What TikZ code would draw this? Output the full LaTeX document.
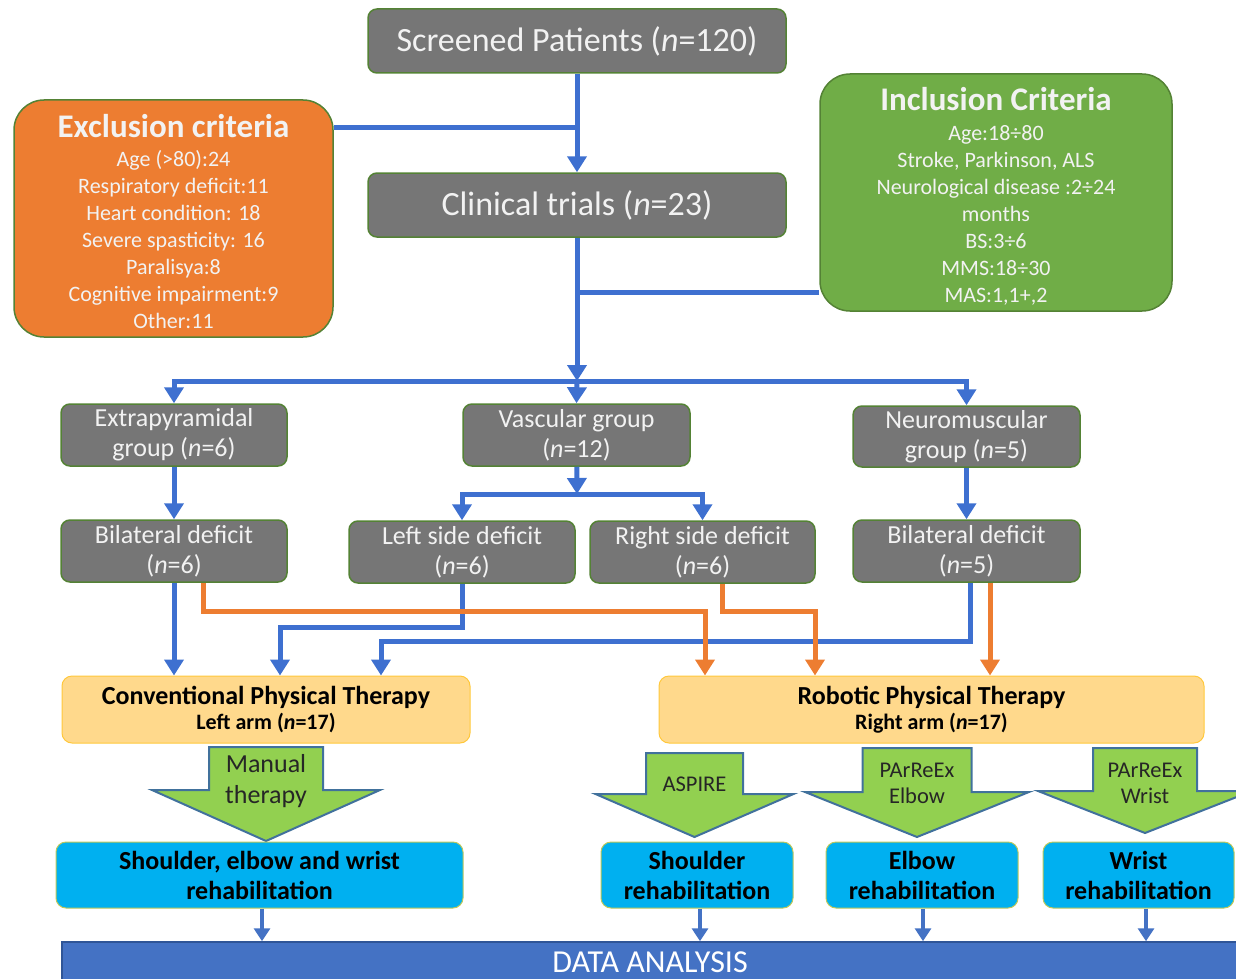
\documentclass[tikz,border=0pt]{standalone}
\usepackage{fontspec}
\setmainfont{Carlito}
\usetikzlibrary{arrows.meta}

\definecolor{boxgray}{RGB}{118,118,118}
\definecolor{edgegreen}{RGB}{84,130,53}
\definecolor{txtlight}{RGB}{242,242,242}
\definecolor{exorange}{RGB}{237,125,49}
\definecolor{ingreen}{RGB}{112,173,71}
\definecolor{linkblue}{RGB}{62,112,208}
\definecolor{therapy}{RGB}{255,217,140}
\definecolor{therapyedge}{RGB}{255,200,60}
\definecolor{armgreen}{RGB}{146,208,80}
\definecolor{armedge}{RGB}{65,113,156}
\definecolor{rehabcyan}{RGB}{0,176,240}
\definecolor{rehabedge}{RGB}{190,200,90}
\definecolor{datablue}{RGB}{68,114,196}
\definecolor{dataedge}{RGB}{47,85,151}

\tikzset{
  gbox/.style={draw=edgegreen, line width=1.5pt, fill=boxgray, rounded corners=9pt,
    text=txtlight, align=center, inner sep=0pt, font=\fontsize{26}{30}\selectfont},
  bigbox/.style={draw=edgegreen, line width=1.5pt, rounded corners=30pt,
    text=txtlight, align=center, inner sep=0pt, font=\fontsize{22}{27}\selectfont},
  therapybox/.style={draw=therapyedge, line width=1pt, fill=therapy, rounded corners=10pt,
    text=black, align=center, inner sep=0pt, font=\bfseries},
  rehabbox/.style={draw=rehabedge, line width=1pt, fill=rehabcyan, rounded corners=10pt,
    text=black, align=center, inner sep=0pt, font=\fontsize{26}{30}\selectfont\bfseries},
  blueline/.style={draw=linkblue, line width=5pt},
  orangeline/.style={draw=exorange, line width=5pt},
  tipped/.style={-{Triangle[width=19pt,length=16pt]}},
  thintipped/.style={draw=datablue, line width=4pt, -{Triangle[width=16pt,length=13pt]}},
  blockarrow/.style={draw=armedge, line width=2pt, fill=armgreen, line join=miter},
  armtext/.style={text=black!85, align=center, inner sep=0pt},
}

% downward block arrow: centre x, shaft top, shaft half width, wing y, wing half width, tip y
\newcommand\downblock[6]{%
  \draw[blockarrow] (#1-#3,#2) -- (#1+#3,#2) -- (#1+#3,#4) -- (#1+#5,#4) -- (#1,#6)
    -- (#1-#5,#4) -- (#1-#3,#4) -- cycle;}

\begin{document}
\begin{tikzpicture}[x=1pt,y=-1pt]
\useasboundingbox (0,0) rectangle (1236,979);
\clip (0,0) rectangle (1236,979);

% screening stage
\node[gbox, minimum width=418pt, minimum height=64pt, font=\fontsize{34}{40}\selectfont]
  (scr) at (577,41) {Screened Patients (\textit{n}=120)};
\node[gbox, minimum width=418pt, minimum height=64pt, font=\fontsize{34}{40}\selectfont]
  (clin) at (577,205) {Clinical trials (\textit{n}=23)};

\node[bigbox, fill=exorange, minimum width=319pt, minimum height=237pt]
  (exc) at (173.5,218.5) {\mbox{}\\[2pt]{\fontsize{33}{36}\selectfont\bfseries Exclusion criteria}\\[2pt]
  Age (>80):24\\ Respiratory deficit:11\\ Heart condition: 18\\ Severe spasticity: 16\\
  Paralisya:8\\ Cognitive impairment:9\\ Other:11};

\node[bigbox, fill=ingreen, minimum width=352pt, minimum height=237pt]
  (inc) at (996,192.5) {\mbox{}\\[4pt]{\fontsize{33}{36}\selectfont\bfseries Inclusion Criteria}\\[3pt]
  Age:18÷80\\ Stroke, Parkinson, ALS\\ Neurological disease :2÷24\\ months\\
  BS:3÷6\\ MMS:18÷30\\ MAS:1,1+,2};

% disease groups
\node[gbox, minimum width=226pt, minimum height=62pt] (ext) at (174,435) {Extrapyramidal\\group (\textit{n}=6)};
\node[gbox, minimum width=227pt, minimum height=62pt] (vas) at (576.5,435) {Vascular group\\(\textit{n}=12)};
\node[gbox, minimum width=227pt, minimum height=61pt] (neu) at (966.5,436.5) {Neuromuscular\\group (\textit{n}=5)};

\node[gbox, minimum width=226pt, minimum height=62pt] (bl1) at (174,551) {Bilateral deficit\\(\textit{n}=6)};
\node[gbox, minimum width=226pt, minimum height=62pt] (lsd) at (462,552) {Left side deficit\\(\textit{n}=6)};
\node[gbox, minimum width=225pt, minimum height=62pt] (rsd) at (702.5,552) {Right side deficit\\(\textit{n}=6)};
\node[gbox, minimum width=227pt, minimum height=62pt] (bl2) at (966.5,551) {Bilateral deficit\\(\textit{n}=5)};

% therapy arms
\node[therapybox, minimum width=408pt, minimum height=67pt] (conv) at (266,709.5)
  {{\fontsize{26}{29}\selectfont Conventional Physical Therapy}\\[4pt]
   {\fontsize{22}{27}\selectfont Left arm (\textit{n}=17)}};
\node[therapybox, minimum width=545pt, minimum height=67pt] (rob) at (931.5,709.5)
  {{\fontsize{26}{29}\selectfont Robotic Physical Therapy}\\[4pt]
   {\fontsize{22}{27}\selectfont Right arm (\textit{n}=17)}};

% treatment block arrows
\downblock{266}{747}{57}{790}{114}{841}
\node[armtext, font=\fontsize{26}{31}\selectfont] (man) at (266,781) {Manual\\therapy};
\downblock{694.5}{753}{48.5}{794}{99}{837}
\node[armtext, font=\fontsize{22.5}{26}\selectfont] (asp) at (694.5,784) {ASPIRE};
\downblock{917}{748}{54.5}{792}{112}{837}
\node[armtext, font=\fontsize{22.5}{26}\selectfont] (pel) at (917,783) {PArReEx\\Elbow};
\downblock{1145}{748}{52}{791}{107}{833}
\node[armtext, font=\fontsize{22.5}{26}\selectfont] (pwr) at (1145,783) {PArReEx\\Wrist};

% rehabilitation targets
\node[rehabbox, minimum width=407pt, minimum height=66pt] (swr) at (259.5,875) {Shoulder, elbow and wrist\\rehabilitation};
\node[rehabbox, minimum width=192pt, minimum height=66pt] (shr) at (697,875) {Shoulder\\rehabilitation};
\node[rehabbox, minimum width=192pt, minimum height=66pt] (elr) at (922,875) {Elbow\\rehabilitation};
\node[rehabbox, minimum width=191pt, minimum height=66pt] (wrr) at (1138.5,875) {Wrist\\rehabilitation};

\node[draw=dataedge, line width=1.5pt, fill=datablue, text=white, inner sep=0pt,
  minimum width=1176pt, minimum height=40pt, font=\fontsize{32}{36}\selectfont]
  (data) at (650,962) {DATA ANALYSIS};

% junction points
\coordinate (jexc) at (577,128);
\coordinate (jinc) at (577,292);
\coordinate (split) at (577,381);
\coordinate (vsplit) at (577,494);
\coordinate (o1) at (705,611);
\coordinate (o2) at (815,611);
\coordinate (b1) at (280,627);
\coordinate (b2) at (381,641);

% upper connectors
\draw[blueline] (exc.east |- jexc) -- (jexc);
\draw[blueline, tipped] (scr) -- (clin);
\draw[blueline] (inc.west |- jinc) -- (jinc);
\draw[blueline, tipped] (clin) -- (split);
\draw[blueline, tipped] (split) -| (ext.north);
\draw[blueline, tipped] (split) -| (neu.north);
\draw[blueline, tipped] (split) -- (vas.north);
\draw[blueline, tipped] (vas) -- (vsplit);
\draw[blueline, tipped] (vsplit) -| (lsd.north);
\draw[blueline, tipped] (vsplit) -| (rsd.north);
\draw[blueline, tipped] (ext) -- (bl1);
\draw[blueline, tipped] (neu) -- (bl2);

% allocation to the therapy arms
\draw[blueline, tipped] (bl1.south) -- (bl1.south |- conv.north);
\draw[blueline, tipped] (lsd.south) |- (b1) -- (b1 |- conv.north);
\draw[blueline, tipped] ([xshift=3.5pt]bl2.south) |- (b2) -- (b2 |- conv.north);
\draw[orangeline, tipped] ([xshift=29pt]bl1.south) |- (o1) -- (o1 |- rob.north);
\draw[orangeline, tipped] ([xshift=19.5pt]rsd.south) |- (o2) -- (o2 |- rob.north);
\draw[orangeline, tipped] ([xshift=23.5pt]bl2.south) -- ([xshift=23.5pt]bl2.south |- rob.north);

% rehabilitation to data analysis
\draw[thintipped] ([xshift=2.5pt]swr.south) -- ([xshift=2.5pt]swr.south |- data.north);
\draw[thintipped] ([xshift=3pt]shr.south) -- ([xshift=3pt]shr.south |- data.north);
\draw[thintipped] ([xshift=1pt]elr.south) -- ([xshift=1pt]elr.south |- data.north);
\draw[thintipped] ([xshift=7.5pt]wrr.south) -- ([xshift=7.5pt]wrr.south |- data.north);
\end{tikzpicture}
\end{document}
